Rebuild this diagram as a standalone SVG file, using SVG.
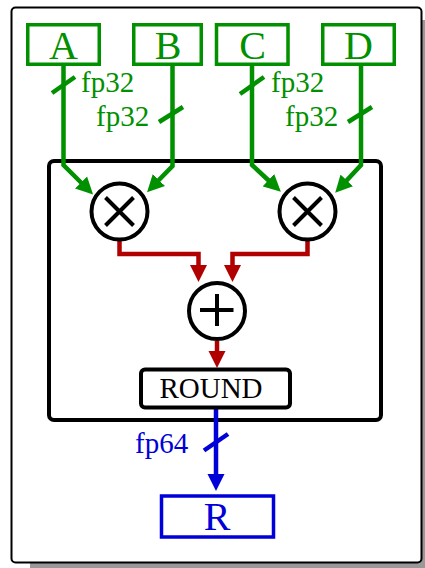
<svg xmlns="http://www.w3.org/2000/svg" width="425" height="568" viewBox="0 0 425 568">
<style>
.lbl{font-family:"Liberation Serif","Times New Roman",serif;}
.big{font-size:40px;text-anchor:middle;}
.small{font-size:29px;}
.g{stroke:#009000;fill:none;stroke-width:4.5;}
.r{stroke:#b00000;fill:none;stroke-width:4.5;}
.b{stroke:#0000d8;fill:none;stroke-width:4.5;}
.gbox{fill:#fff;stroke:#009000;stroke-width:3.5;}
.bbox{fill:#fff;stroke:#0000d8;stroke-width:3.5;}
.op{fill:#fff;stroke:#000;stroke-width:4;}
.sym{stroke:#000;stroke-width:4;fill:none;}
</style>
<defs>
<marker id="ag" markerUnits="userSpaceOnUse" markerWidth="18" markerHeight="18" refX="7" refY="8.5" orient="auto" viewBox="0 0 18 17"><path d="M0,0 L17,8.5 L0,17 z" fill="#009000"/></marker>
<marker id="ar" markerUnits="userSpaceOnUse" markerWidth="18" markerHeight="18" refX="7" refY="8.5" orient="auto" viewBox="0 0 18 17"><path d="M0,0 L17,8.5 L0,17 z" fill="#b00000"/></marker>
<marker id="ab" markerUnits="userSpaceOnUse" markerWidth="18" markerHeight="18" refX="7" refY="8.5" orient="auto" viewBox="0 0 18 17"><path d="M0,0 L17,8.5 L0,17 z" fill="#0000d8"/></marker>
</defs>
<g id="frame">
<rect x="30" y="20" width="410" height="560" fill="#999"/>
<rect x="11.5" y="7.5" width="410" height="555" rx="4" fill="#fff" stroke="#000" stroke-width="2"/>
</g>
<g id="unit">
<rect x="49" y="161" width="332" height="259" rx="5" fill="#fff" stroke="#000" stroke-width="4"/>
</g>
<g id="connectors">
<path class="g" d="M63.5,66 V165 L86,187.5" marker-end="url(#ag)"/>
<path class="g" d="M172.5,66 V166 L154,185" marker-end="url(#ag)"/>
<path class="g" d="M252,66 V165 L273.5,185" marker-end="url(#ag)"/>
<path class="g" d="M361,66 V165 L342,185.5" marker-end="url(#ag)"/>
<path class="r" d="M119.5,241 V254 H198.5 V272" marker-end="url(#ar)"/>
<path class="r" d="M307.5,241 V254 H232.5 V272" marker-end="url(#ar)"/>
<path class="r" d="M217,341 V358" marker-end="url(#ar)"/>
<path class="b" d="M216,409 V481" marker-end="url(#ab)"/>
<line class="g" x1="52" y1="93" x2="75" y2="77"/>
<line class="g" x1="159" y1="122" x2="183" y2="107"/>
<line class="g" x1="240" y1="94" x2="264" y2="77"/>
<line class="g" x1="348" y1="122" x2="372" y2="107"/>
<line class="b" x1="204" y1="450.5" x2="228" y2="434"/>
<text class="lbl small" x="81" y="92" fill="#009000">fp32</text>
<text class="lbl small" x="96" y="126" fill="#009000">fp32</text>
<text class="lbl small" x="271" y="92" fill="#009000">fp32</text>
<text class="lbl small" x="285" y="126" fill="#009000">fp32</text>
<text class="lbl small" x="135" y="453" fill="#0000d8">fp64</text>
</g>
<g id="A"><rect class="gbox" x="27.75" y="24.75" width="71.5" height="39.5"/><text class="lbl big" x="63.5" y="59" fill="#009000">A</text></g>
<g id="B"><rect class="gbox" x="133.75" y="24.75" width="67.5" height="39.5"/><text class="lbl big" x="168" y="59" fill="#009000">B</text></g>
<g id="C"><rect class="gbox" x="216.5" y="24.75" width="71.5" height="39.5"/><text class="lbl big" x="252.5" y="59" fill="#009000">C</text></g>
<g id="D"><rect class="gbox" x="322.75" y="24.75" width="71.5" height="39.5"/><text class="lbl big" x="358.5" y="59" fill="#009000">D</text></g>
<g id="mul1"><circle class="op" cx="119.5" cy="211.5" r="28"/><path class="sym" d="M105.5,197.5 L133.5,225.5 M133.5,197.5 L105.5,225.5"/></g>
<g id="mul2"><circle class="op" cx="307.5" cy="211.5" r="28"/><path class="sym" d="M293.5,197.5 L321.5,225.5 M321.5,197.5 L293.5,225.5"/></g>
<g id="add"><circle class="op" cx="217" cy="311" r="28"/><path class="sym" d="M200,310 H233.5 M217,294 V326"/></g>
<g id="round"><rect x="141" y="369.5" width="149" height="38" rx="4" fill="#fff" stroke="#000" stroke-width="4"/><text class="lbl" x="211" y="398" font-size="29" text-anchor="middle" fill="#000">ROUND</text></g>
<g id="R"><rect class="bbox" x="161.5" y="496" width="112" height="41"/><text class="lbl big" x="217" y="530" fill="#0000d8">R</text></g>
</svg>
